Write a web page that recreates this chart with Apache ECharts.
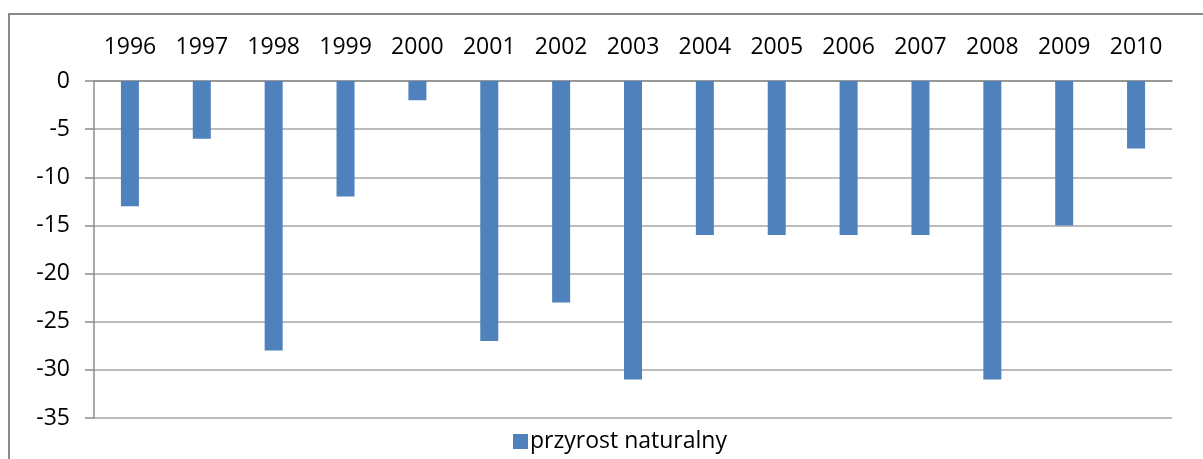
<!DOCTYPE html>
<html>
<head>
<meta charset="utf-8">
<script src="https://cdn.jsdelivr.net/npm/echarts@6/dist/echarts.min.js"></script>
<style>
  html, body { margin: 0; padding: 0; background: #fff; }
  #main { width: 1203px; height: 459px; }
</style>
</head>
<body>
<div id="main"></div>
<script>
// przyrost naturalny by year
const years = ['1996', '1997', '1998', '1999', '2000', '2001', '2002', '2003',
  '2004', '2005', '2006', '2007', '2008', '2009', '2010'];
const growth = [-13, -6, -28, -12, -2, -27, -23, -31, -16, -16, -16, -16, -31, -15, -7];
const seriesName = 'przyrost naturalny';

const font = '"Open Sans", sans-serif';
const axisGray = '#8c8c8c';

var chart = echarts.init(document.getElementById('main'));
chart.setOption({
  backgroundColor: '#fff',
  animation: false,
  graphic: [
    {
      type: 'polyline',
      shape: { points: [[9, 470], [9, 14], [1210, 14]] },
      style: { stroke: '#8a8a8a', lineWidth: 2, fill: null }
    }
  ],
  grid: { left: 94, right: 31, top: 81, bottom: 41 },
  legend: {
    bottom: 1,
    left: 508,
    itemWidth: 15,
    itemHeight: 15,
    icon: 'rect',
    textStyle: { fontFamily: font, fontSize: 23, color: '#000', padding: [0, 0, 0, -3] },
    data: [seriesName]
  },
  xAxis: [
    {
      type: 'category',
      data: years,
      position: 'top',
      axisLine: { lineStyle: { color: axisGray, width: 1.5 } },
      axisTick: { length: 8, lineStyle: { color: axisGray, width: 1.5 } },
      axisLabel: { fontFamily: font, fontSize: 23, color: '#000', margin: 22 }
    },
    {
      type: 'category',
      data: years,
      position: 'top',
      axisLine: { show: false },
      axisTick: { inside: true, length: 9, lineStyle: { color: axisGray, width: 1.5 } },
      axisLabel: { show: false }
    }
  ],
  yAxis: {
    type: 'value',
    min: -35,
    max: 0,
    interval: 5,
    axisLine: { show: true, lineStyle: { color: axisGray, width: 1.5 } },
    axisTick: { show: true, length: 9, lineStyle: { color: axisGray, width: 1.5 } },
    splitLine: { lineStyle: { color: '#a6a6a6', width: 1.5 } },
    axisLabel: { fontFamily: font, fontSize: 23, color: '#000', margin: 24 }
  },
  series: [
    {
      name: seriesName,
      type: 'bar',
      data: growth,
      barWidth: 18,
      itemStyle: { color: '#4f81bd' }
    }
  ]
});
</script>
</body>
</html>
